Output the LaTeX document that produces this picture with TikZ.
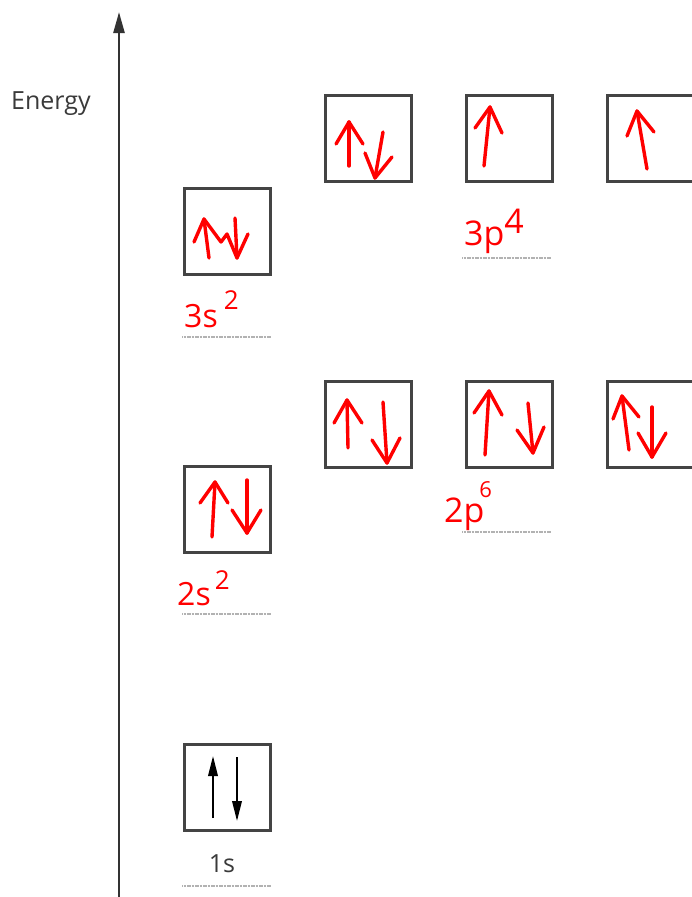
\documentclass[tikz,border=0pt]{standalone}
\usepackage{fontspec}
\setmainfont{Open Sans}
\usetikzlibrary{arrows.meta}
\definecolor{boxgray}{HTML}{444444}
\definecolor{axgray}{HTML}{333333}
\definecolor{txtgray}{HTML}{3A3A3A}
\definecolor{hand}{HTML}{FF0000}
\begin{document}
\begin{tikzpicture}[x=1pt,y=-1pt,
  orb/.style={draw=boxgray, line width=2.6pt, minimum width=86pt, minimum height=86pt, inner sep=0pt, anchor=north west},
  spin/.style={hand, line width=3.4pt, line cap=round, line join=round},
  guide/.style={draw=gray!60, line width=1.9pt, dash pattern=on 1.1pt off 0.5pt},
  axisline/.style={draw=axgray, line width=2.4pt, -{Triangle[length=21pt,width=11pt]}},
  blackspin/.style={draw=black, line width=2pt, -{Triangle[length=20pt,width=9.5pt]}},
  lbl/.style={text=txtgray, font=\fontsize{25}{25}\selectfont, inner sep=0pt},
  redlbl/.style={text=hand, inner sep=0pt, anchor=base west}]
\useasboundingbox (0,0) rectangle (691,897);
% axis
\coordinate (axbot) at (119,897);
\coordinate (axtop) at (119,12);
\draw[axisline] (axbot) -- (axtop);
\node[lbl, anchor=base west] (energy) at (11,109) {Energy};
% boxes
\node[orb] (s3) at (183,187) {};
\node[orb] (s2) at (183,465) {};
\node[orb] (s1) at (183,743) {};
\node[orb] (p3a) at (324,94) {};
\node[orb] (p3b) at (465,94) {};
\node[orb] (p3c) at (606,94) {};
\node[orb] (p2a) at (324,380) {};
\node[orb] (p2b) at (465,380) {};
\node[orb] (p2c) at (606,380) {};
% guides
\draw[guide] (182,337) -- (271,337);
\draw[guide] (182,614) -- (271,614);
\draw[guide] (182,886) -- (271,886);
\draw[guide] (462,258) -- (551,258);
\draw[guide] (462,532) -- (551,532);
% 1s
\coordinate (u1a) at (213,818); \coordinate (u1b) at (213,756);
\coordinate (d1a) at (237,757); \coordinate (d1b) at (237,821);
\draw[blackspin] (u1a) -- (u1b);
\draw[blackspin] (d1a) -- (d1b);
\node[lbl, anchor=base] (l1s) at (222,872) {1s};
% 3s
\draw[spin] (209,258) -- (204,219);
\draw[spin] (194,242) -- (204,219) -- (221,242) -- (227,234) -- (237,258) -- (248,234);
\draw[spin] (235,218) -- (237,258);
% 2s
\draw[spin] (212,537) -- (215,482);
\draw[spin] (200,503) -- (215,482) -- (228,503);
\draw[spin] (247,480) -- (247,533);
\draw[spin] (232,510) -- (247,533) -- (261,510);
% 3p
\draw[spin] (349,166) -- (349,122);
\draw[spin] (336,144) -- (349,122) -- (363,144);
\draw[spin] (383,132) -- (375,178);
\draw[spin] (365,153) -- (375,178) -- (392,157);
\draw[spin] (484,166) -- (490,107);
\draw[spin] (475,128) -- (490,107) -- (502,133);
\draw[spin] (647,169) -- (637,111);
\draw[spin] (627,136) -- (637,111) -- (654,132);
% 2p
\draw[spin] (348,448) -- (347,400);
\draw[spin] (334,423) -- (347,400) -- (362,423);
\draw[spin] (383,402) -- (387,463);
\draw[spin] (372,440) -- (387,463) -- (400,438);
\draw[spin] (485,455) -- (489,391);
\draw[spin] (474,413) -- (489,391) -- (502,415);
\draw[spin] (528,403) -- (533,453);
\draw[spin] (517,430) -- (533,453) -- (544,427);
\draw[spin] (629,450) -- (622,396);
\draw[spin] (613,419) -- (622,396) -- (639,417);
\draw[spin] (652,407) -- (652,457);
\draw[spin] (638,433) -- (652,457) -- (666,433);
% handwritten labels
\node[redlbl] (t3s) at (184,327) {\fontsize{32}{32}\selectfont 3s\hspace{6pt}\raisebox{18pt}{\fontsize{26}{26}\selectfont 2}};
\node[redlbl] (t2s) at (177,605) {\fontsize{32}{32}\selectfont 2s\hspace{4pt}\raisebox{16pt}{\fontsize{26}{26}\selectfont 2}};
\node[redlbl] (t3p) at (464,245) {\fontsize{34}{34}\selectfont 3p\raisebox{12pt}{4}};
\node[redlbl] (t2p) at (444,522) {\fontsize{34}{34}\selectfont 2p\hspace{-5pt}\raisebox{25pt}{\fontsize{22}{22}\selectfont 6}};
\end{tikzpicture}
\end{document}
